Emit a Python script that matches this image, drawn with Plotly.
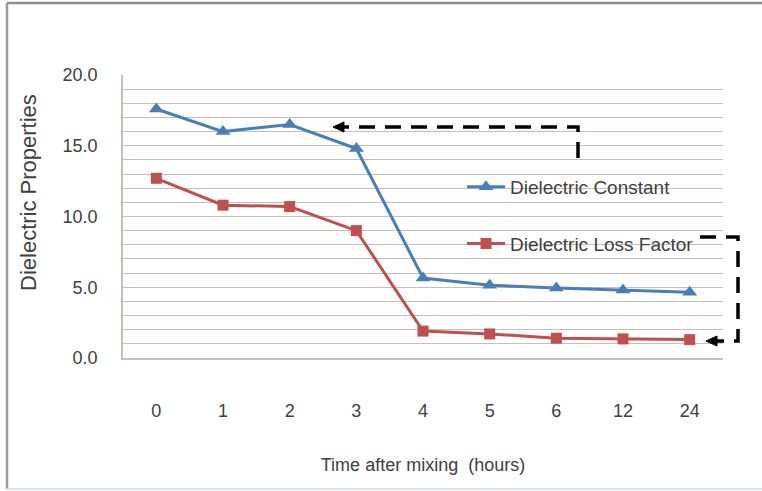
import plotly.graph_objects as go

# Hours after mixing (category axis) and measured dielectric properties
hours = ["0", "1", "2", "3", "4", "5", "6", "12", "24"]
dielectric_constant = [17.6, 16.0, 16.5, 14.8, 5.65, 5.15, 4.95, 4.8, 4.65]
loss_factor = [12.7, 10.8, 10.7, 9.0, 1.9, 1.7, 1.4, 1.35, 1.3]

y_ticks = [0, 5, 10, 15, 20]
y_tick_text = ["0.0", "5.0", "10.0", "15.0", "20.0"]

W, H = 762, 491
ML, MR, MT, MB = 123, 39, 75, 133
PW, PH = W - ML - MR, H - MT - MB

BLUE = "#4a7ebb"
RED = "#c0504d"
GRID = "#c9bfb8"
TEXT = "#404040"
FONT = "Liberation Sans, Arial, sans-serif"


def px(x):
    """Horizontal pixel position -> paper coordinate."""
    return (x - ML) / PW


def py(y):
    """Vertical pixel position -> paper coordinate."""
    return (H - MB - y) / PH


def path(points):
    return "M " + " L ".join(f"{px(x):.5f},{py(y):.5f}" for x, y in points)


def arrow_head(tip_x, tip_y, length=11, half=5):
    return (path([(tip_x, tip_y), (tip_x + length, tip_y - half),
                  (tip_x + length, tip_y + half)]) + " Z")


def frame_line(x0, y0, x1, y1, color, width):
    return dict(type="line", xref="paper", yref="paper",
                x0=px(x0), y0=py(y0), x1=px(x1), y1=py(y1),
                line=dict(color=color, width=width), layer="below")


fig = go.Figure()
fig.add_trace(go.Scatter(
    x=hours, y=dielectric_constant, name="Dielectric Constant",
    mode="lines+markers", legendgroup="a",
    line=dict(color=BLUE, width=3),
    marker=dict(symbol="triangle-up", size=13, color=BLUE),
))
fig.add_trace(go.Scatter(
    x=hours, y=loss_factor, name="Dielectric Loss Factor",
    mode="lines+markers", legendgroup="b",
    line=dict(color=RED, width=3),
    marker=dict(symbol="square", size=11, color=RED),
))

dash_style = "16px,10px"
shapes = [
    # outer frame: top and left edges grey, bottom edge faint
    frame_line(7, 3, 762, 3, "#8f8f8f", 2.5),
    frame_line(7, 3, 7, 489, "#9a9a9a", 2.5),
    frame_line(7, 489, 762, 489, "#dde6ea", 2),
    # pointer from the "Dielectric Constant" legend entry to its curve
    dict(type="path", xref="paper", yref="paper",
         path=path([(578, 158), (578, 127), (344, 127)]),
         line=dict(color="black", width=3.5, dash=dash_style)),
    dict(type="path", xref="paper", yref="paper",
         path=arrow_head(333, 127), fillcolor="black",
         line=dict(color="black", width=1)),
    # pointer from the "Dielectric Loss Factor" legend entry to its curve
    dict(type="path", xref="paper", yref="paper",
         path=path([(700, 237), (738, 237), (738, 341), (716, 341)]),
         line=dict(color="black", width=3.5, dash=dash_style)),
    dict(type="path", xref="paper", yref="paper",
         path=arrow_head(706, 341), fillcolor="black",
         line=dict(color="black", width=1)),
]

fig.update_layout(
    width=W, height=H,
    margin=dict(l=ML, r=MR, t=MT, b=MB),
    paper_bgcolor="white", plot_bgcolor="white",
    font=dict(family=FONT, color=TEXT, size=18),
    showlegend=True,
    legend=dict(
        x=px(462), y=py(168), xanchor="left", yanchor="top",
        bgcolor="rgba(0,0,0,0)", font=dict(size=19, color=TEXT),
        traceorder="grouped", tracegroupgap=29, itemwidth=38,
    ),
    shapes=shapes,
    annotations=[dict(
        text="Dielectric Properties", xref="paper", yref="paper",
        x=px(28), y=py(193), showarrow=False, textangle=-90,
        font=dict(size=22, color=TEXT), xanchor="center", yanchor="middle",
    )],
)

fig.update_xaxes(
    type="category", range=[-0.5, len(hours) - 0.5],
    showgrid=False, zeroline=False,
    showline=True, linecolor=GRID, linewidth=1.5,
    ticks="", ticklabelstandoff=36,
    tickfont=dict(size=18, color=TEXT),
    title=dict(text="Time after mixing  (hours)", standoff=38,
               font=dict(size=18, color=TEXT)),
)
fig.update_yaxes(
    range=[0, 20], tickvals=y_ticks, ticktext=y_tick_text,
    showgrid=True, gridcolor=GRID, gridwidth=1.2,
    minor=dict(dtick=1, showgrid=True, gridcolor=GRID, gridwidth=1.2),
    zeroline=False, showline=True, linecolor=GRID, linewidth=1.5,
    ticks="", ticklabelstandoff=20,
    tickfont=dict(size=18, color=TEXT),
)

fig.write_html("out.html")
